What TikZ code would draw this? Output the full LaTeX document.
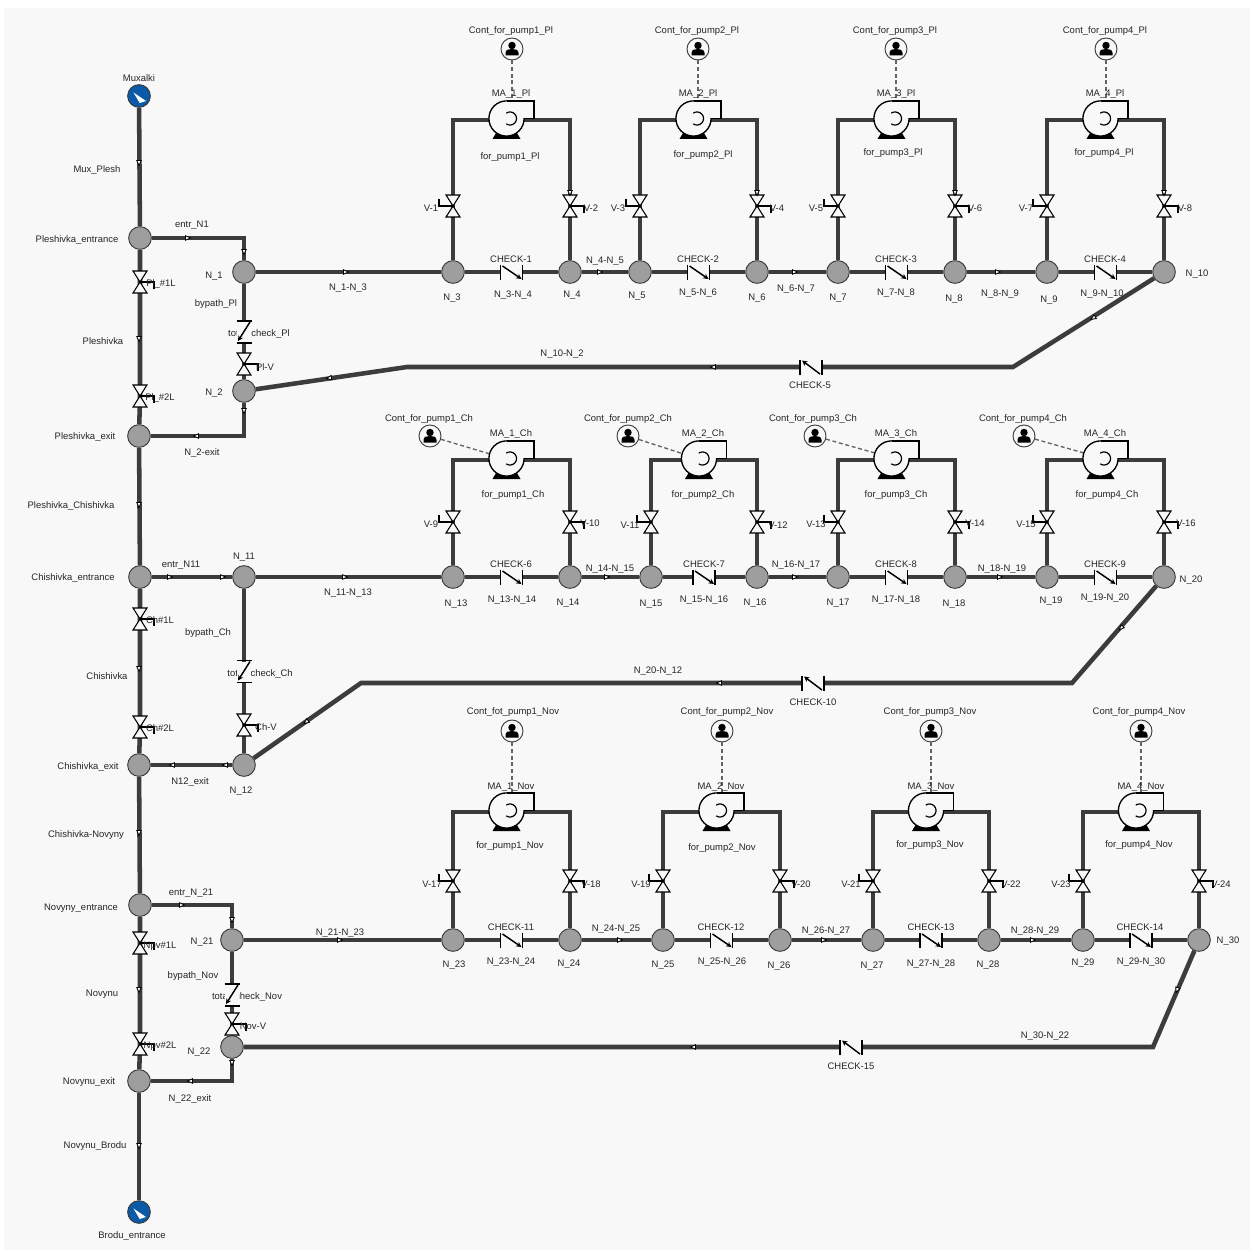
\documentclass[tikz,border=0pt]{standalone}
\usepackage{fontspec}
\setmainfont{Liberation Sans}
\usetikzlibrary{arrows.meta,calc}
\definecolor{bgc}{HTML}{F8F8F8}
\definecolor{pipec}{HTML}{3C3C3C}
\definecolor{juncc}{HTML}{9E9E9E}
\definecolor{resc}{HTML}{0B5AA8}
\tikzset{
  pipe/.style={draw=pipec,line width=3.4pt,line join=miter},
  junc/.style={circle,draw=pipec,fill=juncc,line width=.7pt,minimum size=17pt,inner sep=0pt},
  resv/.style={circle,draw=pipec,fill=resc,line width=.7pt,minimum size=17pt,inner sep=0pt},
  ctrlnode/.style={circle,draw=pipec,fill=bgc,line width=.7pt,minimum size=16.5pt,inner sep=0pt},
  ctrlline/.style={draw=pipec!80,line width=1pt,dash pattern=on 3pt off 2pt},
  lbl/.style={inner sep=0pt,font=\fontsize{7.1}{8}\selectfont,text=black!85},
  sym/.style={draw=black,line width=.8pt,line join=miter},
  handle/.style={draw=black,line width=1.1pt},
  chkbar/.style={draw=black,line width=1.4pt},
  chkarr/.style={draw=black,line width=1.1pt,-{Stealth[length=4pt,width=4pt]}},
  flowmark/.style={draw=black,fill=white,line width=.65pt}
}
\newcounter{lb}
\newcommand\lab[3]{\stepcounter{lb}\node[lbl] (L\arabic{lb}) at (#1,#2+1) {#3};}
\newcommand\jn[3]{\node[junc] (#1) at (#2,#3) {};}
\newcommand\flowm[3]{\draw[flowmark,shift={(#1,#2)},rotate=#3] (-2.5,-2.2)--(2.5,0)--(-2.5,2.2)--cycle;}
\newcommand\valvesym[2]{%
  \draw[sym,fill=bgc,shift={(#1)}] (-7,-11)--(7,-11)--(0,0)--cycle (0,0)--(-7,11)--(7,11)--cycle;
  \if#2L\draw[handle,shift={(#1)}] (0,0)--(-14,0)--(-14,-7);\else\draw[handle,shift={(#1)}] (0,0)--(14,0)--(14,7);\fi}
\newcommand\checkr[1]{%
  \fill[bgc,shift={(#1)}] (-11,-4)rectangle(11,4);
  \draw[chkbar,shift={(#1)}] (-11,-7.5)--(-11,7.5) (11,-7.5)--(11,7.5);
  \draw[chkarr,shift={(#1)}] (-9,-6)--(10,7);}
\newcommand\checkl[1]{%
  \fill[bgc,shift={(#1)}] (-11,-4)rectangle(11,4);
  \draw[chkbar,shift={(#1)}] (-11,-7.5)--(-11,7.5) (11,-7.5)--(11,7.5);
  \draw[chkarr,shift={(#1)}] (9,7)--(-9,-6.5);}
\newcommand\checkv[1]{%
  \fill[bgc,shift={(#1)}] (-7,-10)rectangle(7,10);
  \draw[chkbar,shift={(#1)}] (-7.5,-11)--(7.5,-11) (-7.5,11)--(7.5,11);
  \draw[chkarr,shift={(#1)}] (6,-10)--(-6,9);}
\newcommand\pumpsym[1]{%
  \fill[black,shift={(#1)}] (-9,12)--(9,12)--(14,20.5)--(-14,20.5)--cycle;
  \fill[bgc,shift={(#1)}] (0,0) circle[radius=13.2pt];
  \draw[sym,line width=1pt,shift={(#1)}] (0,0) circle[radius=13.2pt];
  \fill[bgc,shift={(#1)}] (0,-17)--(27,-17)--(27,-.6)--(12,-.6)--cycle;
  \draw[sym,line width=1pt,shift={(#1)}] (0,-17.6)--(27.5,-17.6)--(27.5,0)--(17.5,0);
  \draw[black,line width=.9pt,shift={(#1)}] plot[domain=-125:125,samples=24,smooth] ({3.5+6.5*cos(\x)},{6.5*sin(\x)});}
\newcommand\stage[8]{% id, left jn, right jn, xL, xR, ytop, yvalve, yjunc
  \pgfmathsetmacro\smid{(#4+#5)/2}
  \coordinate (#1vl) at (#4,#7);
  \coordinate (#1vr) at (#5,#7);
  \coordinate (#1tl) at (#4,#6);
  \coordinate (#1tr) at (#5,#6);
  \coordinate (#1p) at ({\smid-5},#6-1.5);
  \coordinate (#1ck) at (\smid,#8);
  \draw[pipe] (#2) -- (#1vl) -- (#1tl) -- (#1p |- #1tl);
  \draw[pipe] (#1p |- #1tr) -- (#1tr) -- (#1vr) -- (#3);
  \draw[pipe] (#2) -- (#1ck) -- (#3);
  \pumpsym{#1p}
  \valvesym{#1vl}{L}
  \valvesym{#1vr}{R}
  \checkr{#1ck}}
\newcommand\ctrl[5]{%
  \node[ctrlnode] (#1) at (#2,#3) {};
  \coordinate (#1t) at (#4,#5);
  \draw[ctrlline] (#1) -- (#1t);
  \fill[black,shift={(#1)}] (0,-3.5) circle[radius=2.8pt];
  \fill[black,shift={(#1)}] (-6.5,6.5)--(-6.5,4) .. controls (-6.5,0.5) and (-3,0) .. (0,0) .. controls (3,0) and (6.5,0.5) .. (6.5,4)--(6.5,6.5)--cycle;}
\newcommand\resmark[1]{\fill[white,shift={(#1)}] (-5.5,-3.5)--(7,5)--(.7,7)--cycle;}
\begin{document}
\catcode`\_=12
\begin{tikzpicture}[x=.75pt,y=-.75pt]
\useasboundingbox (0,0) rectangle (1253,1252);
\fill[white] (0,0) rectangle (1253,1252);
\fill[bgc] (4,8) rectangle (1250,1250);

% junctions
\node[resv] (Mux) at (139,96) {};
\node[resv] (Bro) at (139,1212) {};
\jn{PE}{140}{238}\jn{PX}{139}{436}\jn{CE}{140}{577}\jn{CX}{139}{765}\jn{NE}{140}{905}\jn{NX}{139}{1081}
\jn{N1}{244}{272}\jn{N2}{244}{391}\jn{N3}{453}{272}\jn{N4}{570}{272}\jn{N5}{640}{272}\jn{N6}{757}{272}
\jn{N7}{838}{272}\jn{N8}{955}{272}\jn{N9}{1047}{272}\jn{N10}{1164}{272}
\jn{N11}{244}{577}\jn{N12}{244}{765}\jn{N13}{453}{577}\jn{N14}{570}{577}\jn{N15}{651}{577}\jn{N16}{757}{577}
\jn{N17}{838}{577}\jn{N18}{955}{577}\jn{N19}{1047}{577}\jn{N20}{1164}{577}
\jn{N21}{232}{940}\jn{N22}{232}{1047}\jn{N23}{453}{940}\jn{N24}{570}{940}\jn{N25}{663}{940}\jn{N26}{780}{940}
\jn{N27}{873}{940}\jn{N28}{989}{940}\jn{N29}{1083}{940}\jn{N30}{1199}{940}

% labels that the check symbols partly hide
\lab{259}{333}{total_check_Pl}
\lab{260}{673}{total_check_Ch}
\lab{247}{996}{total_check_Nov}

% coordinates on the main lines
\coordinate (V1L) at (140,282);\coordinate (V2L) at (140,396);
\coordinate (C1L) at (140,619);\coordinate (C2L) at (140,727);
\coordinate (N1L) at (140,943);\coordinate (N2L) at (140,1044);
\coordinate (cPa) at (244,238);\coordinate (cPb) at (244,436);
\coordinate (cNa) at (232,905);\coordinate (cNb) at (232,1081);
\coordinate (tckP) at (244,332);\coordinate (PlV) at (244,364);
\coordinate (tckC) at (244,671.5);\coordinate (ChV) at (244,725);
\coordinate (tckN) at (232,995);\coordinate (NoV) at (232,1024);
\coordinate (r1a) at (407,367);\coordinate (r1b) at (1013,367);\coordinate (ck5) at (811,367);
\coordinate (r2a) at (361,683);\coordinate (r2b) at (1072,683);\coordinate (ck10) at (813,683);
\coordinate (r3b) at (1153,1047);\coordinate (ck15) at (851,1047);

\draw[pipe] (Mux) -- (PE);
\draw[pipe] (PE) -- (V1L) -- (V2L) -- (PX);
\draw[pipe] (PX) -- (CE);
\draw[pipe] (CE) -- (C1L) -- (C2L) -- (CX);
\draw[pipe] (CX) -- (NE);
\draw[pipe] (NE) -- (N1L) -- (N2L) -- (NX);
\draw[pipe] (NX) -- (Bro);
\draw[pipe] (PE) -- (cPa) -- (N1);
\draw[pipe] (N1) -- (tckP) -- (PlV) -- (N2);
\draw[pipe] (N2) -- (cPb) -- (PX);
\draw[pipe] (N1) -- (N3);
\draw[pipe] (N4) -- (N5);
\draw[pipe] (N6) -- (N7);
\draw[pipe] (N8) -- (N9);
\draw[pipe] (N10) -- (r1b) -- (ck5) -- (r1a) -- (N2);
\draw[pipe] (CE) -- (N11);
\draw[pipe] (N11) -- (tckC) -- (ChV) -- (N12);
\draw[pipe] (N12) -- (CX);
\draw[pipe] (N11) -- (N13);
\draw[pipe] (N14) -- (N15);
\draw[pipe] (N16) -- (N17);
\draw[pipe] (N18) -- (N19);
\draw[pipe] (N20) -- (r2b) -- (ck10) -- (r2a) -- (N12);
\draw[pipe] (NE) -- (cNa) -- (N21);
\draw[pipe] (N21) -- (tckN) -- (NoV) -- (N22);
\draw[pipe] (N22) -- (cNb) -- (NX);
\draw[pipe] (N21) -- (N23);
\draw[pipe] (N24) -- (N25);
\draw[pipe] (N26) -- (N27);
\draw[pipe] (N28) -- (N29);
\draw[pipe] (N30) -- (r3b) -- (ck15) -- (N22);

% controllers with their dashed signal lines
\ctrl{Ca}{512}{49}{512}{110}
\ctrl{Cb}{698}{49}{698}{110}
\ctrl{Cc}{896}{49}{896}{110}
\ctrl{Cd}{1106}{49}{1106}{110}
\ctrl{Ce}{430}{436}{500}{457}
\ctrl{Cf}{628}{436}{693}{457}
\ctrl{Cg}{815}{436}{889}{457}
\ctrl{Ch}{1024}{436}{1098}{457}
\ctrl{Ci}{512}{731}{512}{800}
\ctrl{Cj}{722}{731}{722}{800}
\ctrl{Ck}{931}{731}{931}{800}
\ctrl{Cl}{1141}{731}{1141}{800}

% stages
\stage{A}{N3}{N4}{453}{570}{120}{206}{272}
\stage{B}{N5}{N6}{640}{757}{120}{206}{272}
\stage{C}{N7}{N8}{838}{955}{120}{206}{272}
\stage{D}{N9}{N10}{1047}{1164}{120}{206}{272}
\stage{E}{N13}{N14}{453}{570}{460}{522}{577}
\stage{F}{N15}{N16}{651}{757}{460}{522}{577}
\stage{G}{N17}{N18}{838}{955}{460}{522}{577}
\stage{H}{N19}{N20}{1047}{1164}{460}{522}{577}
\stage{I}{N23}{N24}{453}{570}{812}{881}{940}
\stage{J}{N25}{N26}{663}{780}{812}{881}{940}
\stage{K}{N27}{N28}{873}{989}{812}{881}{940}
\stage{M}{N29}{N30}{1083}{1199}{812}{881}{940}

% valves on the main and bypass lines
\valvesym{V1L}{R}\valvesym{V2L}{R}\valvesym{C1L}{R}\valvesym{C2L}{R}\valvesym{N1L}{R}\valvesym{N2L}{R}
\valvesym{PlV}{R}\valvesym{ChV}{R}\valvesym{NoV}{R}
\checkv{tckP}\checkv{tckC}\checkv{tckN}
\checkl{ck5}\checkl{ck10}\checkl{ck15}
\resmark{Mux}\resmark{Bro}

% flow marks
\flowm{139}{163}{-90}\flowm{188}{238}{0}\flowm{244}{252}{-90}\flowm{139}{339}{-90}\flowm{196}{436}{180}\flowm{244}{411}{-90}
\flowm{346}{272}{0}\flowm{600}{272}{0}\flowm{795}{272}{0}\flowm{998}{272}{0}\flowm{1093}{318}{212}\flowm{713}{367}{180}\flowm{329}{378}{188}
\flowm{570}{193}{-90}\flowm{757}{193}{-90}\flowm{955}{193}{-90}\flowm{1164}{193}{-90}
\flowm{139}{505}{-90}\flowm{170}{577}{0}\flowm{223}{577}{0}\flowm{345}{577}{0}\flowm{607}{577}{0}\flowm{795}{577}{0}\flowm{1000}{577}{0}
\flowm{1121}{628}{226}\flowm{719}{683}{180}\flowm{306}{722}{216}\flowm{139}{669}{-90}\flowm{172}{765}{180}\flowm{225}{765}{180}
\flowm{139}{833}{-90}\flowm{182}{905}{0}\flowm{232}{920}{-90}\flowm{340}{940}{0}\flowm{139}{990}{-90}\flowm{232}{1063}{-90}\flowm{190}{1081}{180}
\flowm{620}{940}{0}\flowm{824}{940}{0}\flowm{1033}{940}{0}\flowm{1177}{990}{250}\flowm{693}{1047}{180}\flowm{139}{1146}{-90}

% left column labels
\lab{139}{77}{Muxalki}
\lab{97}{169}{Mux_Plesh}
\lab{77}{239}{Pleshivka_entrance}
\lab{161}{283}{Pl_\#1L}
\lab{103}{340}{Pleshivka}
\lab{160}{397}{Pl_\#2L}
\lab{85}{436}{Pleshivka_exit}
\lab{71}{505}{Pleshivka_Chishivka}
\lab{73}{577}{Chishivka_entrance}
\lab{160}{619}{Ch\#1L}
\lab{107}{675}{Chishivka}
\lab{160}{727}{Ch\#2L}
\lab{88}{766}{Chishivka_exit}
\lab{86}{834}{Chishivka-Novyny}
\lab{81}{907}{Novyny_entrance}
\lab{160}{945}{Npv\#1L}
\lab{102}{993}{Novynu}
\lab{160}{1045}{Npv\#2L}
\lab{89}{1081}{Novynu_exit}
\lab{95}{1145}{Novynu_Brodu}
\lab{132}{1235}{Brodu_entrance}

% bypass labels
\lab{192}{224}{entr_N1}
\lab{214}{275}{N_1}
\lab{216}{303}{bypath_Pl}
\lab{265}{366}{Pl-V}
\lab{214}{392}{N_2}
\lab{202}{452}{N_2-exit}
\lab{348}{287}{N_1-N_3}
\lab{562}{353}{N_10-N_2}
\lab{810}{384}{CHECK-5}
\lab{181}{564}{entr_N11}
\lab{244}{556}{N_11}
\lab{348}{592}{N_11-N_13}
\lab{208}{632}{bypath_Ch}
\lab{266}{726}{Ch-V}
\lab{190}{781}{N12_exit}
\lab{241}{790}{N_12}
\lab{658}{670}{N_20-N_12}
\lab{813}{701}{CHECK-10}
\lab{191}{892}{entr_N_21}
\lab{202}{941}{N_21}
\lab{340}{932}{N_21-N_23}
\lab{193}{975}{bypath_Nov}
\lab{253}{1025}{Nov-V}
\lab{199}{1051}{N_22}
\lab{190}{1098}{N_22_exit}
\lab{1045}{1035}{N_30-N_22}
\lab{851}{1065}{CHECK-15}

% row 1
\lab{511}{30}{Cont_for_pump1_Pl}\lab{697}{30}{Cont_for_pump2_Pl}\lab{895}{30}{Cont_for_pump3_Pl}\lab{1105}{30}{Cont_for_pump4_Pl}
\lab{511}{93}{MA_1_Pl}\lab{698}{93}{MA_2_Pl}\lab{896}{93}{MA_3_Pl}\lab{1105}{93}{MA_4_Pl}
\lab{510}{156}{for_pump1_Pl}\lab{703}{154}{for_pump2_Pl}\lab{893}{152}{for_pump3_Pl}\lab{1104}{152}{for_pump4_Pl}
\lab{431}{207}{V-1}\lab{591}{207}{V-2}\lab{618}{207}{V-3}\lab{777}{207}{V-4}\lab{816}{207}{V-5}\lab{975}{207}{V-6}\lab{1026}{207}{V-7}\lab{1185}{207}{V-8}
\lab{511}{258}{CHECK-1}\lab{698}{258}{CHECK-2}\lab{896}{258}{CHECK-3}\lab{1105}{258}{CHECK-4}
\lab{513}{294}{N_3-N_4}\lab{605}{260}{N_4-N_5}\lab{698}{292}{N_5-N_6}\lab{796}{288}{N_6-N_7}\lab{896}{292}{N_7-N_8}\lab{1000}{293}{N_8-N_9}\lab{1102}{293}{N_9-N_10}
\lab{452}{297}{N_3}\lab{572}{294}{N_4}\lab{637}{295}{N_5}\lab{757}{297}{N_6}\lab{838}{297}{N_7}\lab{954}{298}{N_8}\lab{1049}{299}{N_9}\lab{1197}{273}{N_10}

% row 2
\lab{429}{418}{Cont_for_pump1_Ch}\lab{628}{418}{Cont_for_pump2_Ch}\lab{813}{418}{Cont_for_pump3_Ch}\lab{1023}{418}{Cont_for_pump4_Ch}
\lab{511}{433}{MA_1_Ch}\lab{703}{433}{MA_2_Ch}\lab{896}{433}{MA_3_Ch}\lab{1105}{433}{MA_4_Ch}
\lab{513}{494}{for_pump1_Ch}\lab{703}{494}{for_pump2_Ch}\lab{896}{494}{for_pump3_Ch}\lab{1107}{494}{for_pump4_Ch}
\lab{431}{523}{V-9}\lab{590}{522}{V-10}\lab{630}{524}{V-11}\lab{778}{524}{V-12}\lab{816}{523}{V-13}\lab{975}{522}{V-14}\lab{1026}{523}{V-15}\lab{1186}{522}{V-16}
\lab{511}{563}{CHECK-6}\lab{704}{563}{CHECK-7}\lab{896}{563}{CHECK-8}\lab{1105}{563}{CHECK-9}
\lab{512}{599}{N_13-N_14}\lab{610}{568}{N_14-N_15}\lab{704}{599}{N_15-N_16}\lab{796}{564}{N_16-N_17}\lab{896}{599}{N_17-N_18}\lab{1002}{568}{N_18-N_19}\lab{1105}{597}{N_19-N_20}
\lab{456}{603}{N_13}\lab{568}{602}{N_14}\lab{651}{603}{N_15}\lab{755}{602}{N_16}\lab{838}{602}{N_17}\lab{954}{603}{N_18}\lab{1051}{600}{N_19}\lab{1191}{579}{N_20}

% row 3
\lab{513}{711}{Cont_fot_pump1_Nov}\lab{727}{711}{Cont_for_pump2_Nov}\lab{930}{711}{Cont_for_pump3_Nov}\lab{1139}{711}{Cont_for_pump4_Nov}
\lab{511}{786}{MA_1_Nov}\lab{721}{786}{MA_2_Nov}\lab{931}{786}{MA_3_Nov}\lab{1141}{786}{MA_4_Nov}
\lab{510}{845}{for_pump1_Nov}\lab{722}{847}{for_pump2_Nov}\lab{930}{844}{for_pump3_Nov}\lab{1139}{844}{for_pump4_Nov}
\lab{432}{883}{V-17}\lab{591}{883}{V-18}\lab{641}{883}{V-19}\lab{801}{883}{V-20}\lab{851}{883}{V-21}\lab{1011}{883}{V-22}\lab{1061}{883}{V-23}\lab{1221}{883}{V-24}
\lab{511}{926}{CHECK-11}\lab{721}{926}{CHECK-12}\lab{931}{926}{CHECK-13}\lab{1140}{926}{CHECK-14}
\lab{511}{961}{N_23-N_24}\lab{616}{928}{N_24-N_25}\lab{722}{961}{N_25-N_26}\lab{826}{930}{N_26-N_27}\lab{931}{963}{N_27-N_28}\lab{1035}{930}{N_28-N_29}\lab{1141}{961}{N_29-N_30}
\lab{454}{964}{N_23}\lab{569}{963}{N_24}\lab{663}{964}{N_25}\lab{779}{965}{N_26}\lab{872}{965}{N_27}\lab{988}{964}{N_28}\lab{1083}{962}{N_29}\lab{1228}{940}{N_30}
\end{tikzpicture}
\end{document}
